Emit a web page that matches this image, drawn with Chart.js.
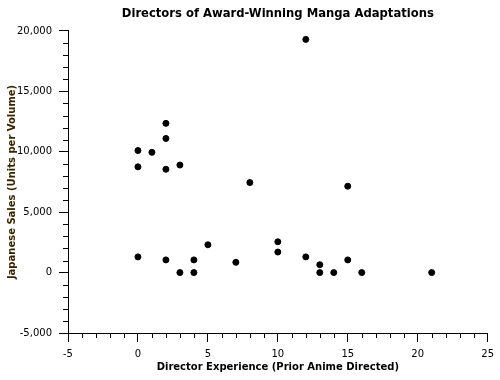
<!DOCTYPE html>
<html>
<head>
<meta charset="utf-8">
<script src="https://cdn.jsdelivr.net/npm/chart.js@4.4.1/dist/chart.umd.min.js"></script>
<style>
  html, body { margin: 0; padding: 0; background: #ffffff; }
  #wrap { width: 500px; height: 380px; }
</style>
</head>
<body>
<div id="wrap"><canvas id="c" width="500" height="380"></canvas></div>
<script>
// Data
const experience = [0, 0, 0, 1, 2, 2, 2, 2, 3, 3, 4, 4, 5, 7, 8, 10, 10, 12, 12, 13, 13, 14, 15, 15, 16, 21];
const sales      = [10100, 8750, 1300, 9950, 12350, 11100, 8550, 1050, 8900, 0, 1050, 0, 2300, 850, 7450, 2550, 1700, 19300, 1300, 650, 0, 0, 7150, 1050, 0, 0];

const xTicks = [-5, 0, 5, 10, 15, 20, 25];
const yTicks = [-5000, 0, 5000, 10000, 15000, 20000];

const chartTitle = 'Directors of Award-Winning Manga Adaptations';
const xTitle = 'Director Experience (Prior Anime Directed)';
const yTitle = 'Japanese Sales (Units per Volume)';

const points = experience.map((x, i) => ({ x: x, y: sales[i] }));

const minorTicks = {
  id: 'minorTicks',
  afterLayout(chart) {
    // centre the title over the plot area
    if (chart.titleBlock) {
      chart.titleBlock.left = chart.chartArea.left;
      chart.titleBlock.right = chart.chartArea.right;
    }
  },
  afterDraw(chart) {
    const ctx = chart.ctx;
    const xs = chart.scales.x, ys = chart.scales.y;
    ctx.save();
    ctx.strokeStyle = '#000000';
    ctx.lineWidth = 1;
    ctx.beginPath();
    for (let v = xTicks[0]; v <= xTicks[xTicks.length - 1]; v += 1) {
      if (v % 5 === 0) continue;
      const px = Math.round(xs.getPixelForValue(v)) + 0.5;
      ctx.moveTo(px, xs.top);
      ctx.lineTo(px, xs.top + 5);
    }
    for (let v = yTicks[0]; v <= yTicks[yTicks.length - 1]; v += 1000) {
      if (v % 5000 === 0) continue;
      const py = Math.round(ys.getPixelForValue(v)) + 0.5;
      ctx.moveTo(ys.right - 5, py);
      ctx.lineTo(ys.right, py);
    }
    ctx.stroke();
    ctx.restore();
  }
};

new Chart(document.getElementById('c'), {
  type: 'scatter',
  data: {
    datasets: [{
      data: points,
      backgroundColor: '#000000',
      borderColor: '#000000',
      borderWidth: 1,
      pointRadius: 3,
      pointHoverRadius: 3
    }]
  },
  options: {
    responsive: false,
    animation: false,
    events: [],
    layout: { padding: { left: 0, right: 12, top: 0, bottom: 0 } },
    plugins: {
      legend: { display: false },
      tooltip: { enabled: false },
      title: {
        display: true,
        text: chartTitle,
        color: '#000000',
        font: { family: 'DejaVu Sans', size: 11.6, weight: 'bold' },
        padding: { top: 7, bottom: 10 }
      }
    },
    scales: {
      x: {
        type: 'linear',
        min: xTicks[0],
        max: xTicks[xTicks.length - 1],
        afterBuildTicks(scale) { scale.ticks = xTicks.map(v => ({ value: v })); },
        afterFit(scale) { scale.height = 47; },
        border: { display: true, color: '#000000', width: 1 },
        grid: { drawOnChartArea: false, drawTicks: true, tickLength: 9, tickColor: '#000000', tickWidth: 1 },
        ticks: {
          color: '#000000',
          padding: 6,
          maxRotation: 0,
          font: { family: 'DejaVu Sans', size: 10 },
          callback: v => v.toLocaleString('en-US')
        },
        title: {
          display: true,
          text: xTitle,
          color: '#000000',
          font: { family: 'DejaVu Sans', size: 10, weight: 'bold' },
          padding: { top: 0, bottom: 7 }
        }
      },
      y: {
        type: 'linear',
        min: yTicks[0],
        max: yTicks[yTicks.length - 1],
        afterBuildTicks(scale) { scale.ticks = yTicks.map(v => ({ value: v })); },
        afterFit(scale) { scale.width = 68; },
        border: { display: true, color: '#000000', width: 1 },
        grid: { drawOnChartArea: false, drawTicks: true, tickLength: 9, tickColor: '#000000', tickWidth: 1 },
        ticks: {
          color: '#000000',
          padding: 7,
          font: { family: 'DejaVu Sans', size: 10 },
          callback: v => v.toLocaleString('en-US')
        },
        title: {
          display: true,
          text: yTitle,
          color: '#3a2400',
          font: { family: 'DejaVu Sans', size: 10, weight: 'bold' },
          padding: { top: 6, bottom: 0 }
        }
      }
    }
  },
  plugins: [minorTicks]
});
</script>
</body>
</html>
